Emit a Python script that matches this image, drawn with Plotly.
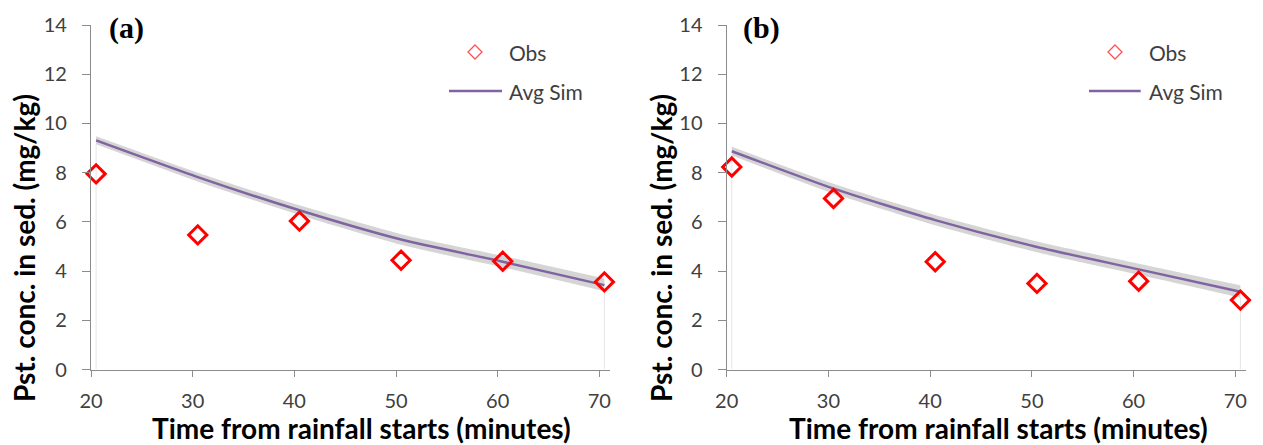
import plotly.graph_objects as go

# ---- data ----
time_obs = [20.5, 30.5, 40.5, 50.5, 60.5, 70.5]
a_obs = [7.95, 5.47, 6.03, 4.44, 4.40, 3.56]
a_sim = [9.31, 7.82, 6.47, 5.28, 4.38, 3.43]
a_upper = [9.48, 8.00, 6.67, 5.50, 4.62, 3.70]
a_lower = [9.15, 7.64, 6.28, 5.07, 4.15, 3.18]
b_obs = [8.23, 6.95, 4.38, 3.50, 3.59, 2.82]
b_sim = [8.87, 7.35, 6.07, 4.98, 4.07, 3.16]
b_upper = [9.05, 7.55, 6.28, 5.20, 4.30, 3.42]
b_lower = [8.70, 7.15, 5.86, 4.76, 3.85, 2.92]
x_ticks = [20, 30, 40, 50, 60, 70]
y_ticks = [0, 2, 4, 6, 8, 10, 12, 14]
panel_labels = ["(a)", "(b)"]
x_title = "Time from rainfall starts (minutes)"
y_title = "Pst. conc. in sed. (mg/kg)"
legend_names = ["Obs", "Avg Sim"]

W, H = 1263, 445
RED = "#ff0000"
PURPLE = "#8064a2"
BAND = "rgba(190,190,190,0.65)"
AX = "#8c8c8c"
TXT = "#404040"

fig = go.Figure()

panels = [
    (a_obs, a_sim, a_upper, a_lower, "x", "y"),
    (b_obs, b_sim, b_upper, b_lower, "x2", "y2"),
]
for obs, sim, up, lo, xa, ya in panels:
    # faint drop edges of the band
    for i in (0, len(time_obs) - 1):
        fig.add_trace(go.Scatter(x=[time_obs[i], time_obs[i]], y=[0, lo[i]], mode="lines",
                                 line=dict(color="#e6e6e6", width=1), xaxis=xa, yaxis=ya,
                                 showlegend=False, hoverinfo="skip"))
    fig.add_trace(go.Scatter(x=time_obs, y=lo, mode="lines", line=dict(width=0, color=BAND, shape="spline", smoothing=0.6),
                             xaxis=xa, yaxis=ya, showlegend=False, hoverinfo="skip"))
    fig.add_trace(go.Scatter(x=time_obs, y=up, mode="lines", line=dict(width=0, color=BAND, shape="spline", smoothing=0.6),
                             fill="tonexty", fillcolor=BAND, xaxis=xa, yaxis=ya, showlegend=False, hoverinfo="skip"))
    fig.add_trace(go.Scatter(x=time_obs, y=sim, mode="lines", name=legend_names[1],
                             line=dict(color=PURPLE, width=2.5, shape="spline", smoothing=0.6),
                             xaxis=xa, yaxis=ya, showlegend=False))
    fig.add_trace(go.Scatter(x=time_obs, y=obs, mode="markers", name=legend_names[0],
                             marker=dict(symbol="diamond-open", size=14, color=RED, line=dict(width=3, color=RED)),
                             xaxis=xa, yaxis=ya, showlegend=False, cliponaxis=False))

ydom = [1 - 369.5 / H, 1 - 25 / H]
xdoms = [[91 / W, 610 / W], [726.7 / W, 1246 / W]]

axis_common = dict(showgrid=False, zeroline=False, showline=True, linecolor=AX, linewidth=1.3,
                   ticks="outside", tickcolor=AX, tickwidth=1.3, automargin=False,
                   tickfont=dict(family="Lato", size=20, color=TXT))
for i, sfx in enumerate(["", "2"]):
    fig.layout["xaxis" + sfx] = dict(axis_common, domain=xdoms[i], range=[20, 71.05],
                                     tickvals=x_ticks, ticklen=6, anchor="y" + sfx,
                                     ticklabelstandoff=7)
    fig.layout["yaxis" + sfx] = dict(axis_common, domain=ydom, range=[0, 14],
                                     tickvals=y_ticks, ticklen=8, anchor="x" + sfx,
                                     ticklabelstandoff=11)

ann = []
# axis titles
for cx in (361, 998.5):
    ann.append(dict(text=x_title, x=cx / W, y=1 - 428 / H, xref="paper", yref="paper",
                    xanchor="center", yanchor="middle", showarrow=False,
                    font=dict(family="Lato", size=28, color="#000000", weight="bold")))
for cx in (24, 661):
    ann.append(dict(text=y_title, x=cx / W, y=1 - 248 / H, xref="paper", yref="paper",
                    xanchor="center", yanchor="middle", showarrow=False, textangle=-90,
                    font=dict(family="Lato", size=28, color="#000000", weight="bold")))
# panel labels
for lx, lab in zip((107, 741), panel_labels):
    ann.append(dict(text=lab, x=lx / W, y=1 - 28 / H, xref="paper", yref="paper",
                    xanchor="left", yanchor="middle", showarrow=False,
                    font=dict(family="Liberation Serif", size=30, color="#000000", weight="bold")))

shapes = []
# manual legends
for dx, lx0, lx1, tx in ((475, 449, 502, 507), (1115, 1089, 1140.7, 1147)):
    s = 7
    cy = 52
    path = f"M {(dx)/W} {1-(cy-s)/H} L {(dx+s)/W} {1-cy/H} L {dx/W} {1-(cy+s)/H} L {(dx-s)/W} {1-cy/H} Z"
    shapes.append(dict(type="path", path=path, xref="paper", yref="paper",
                       line=dict(color="#ff5050", width=1.3), fillcolor="rgba(0,0,0,0)"))
    shapes.append(dict(type="line", x0=lx0 / W, x1=lx1 / W, y0=1 - 91 / H, y1=1 - 91 / H,
                       xref="paper", yref="paper", line=dict(color=PURPLE, width=2.5)))
    for ty, name in ((52, legend_names[0]), (91, legend_names[1])):
        ann.append(dict(text=name, x=tx / W, y=1 - ty / H, xref="paper", yref="paper",
                        xanchor="left", yanchor="middle", showarrow=False,
                        font=dict(family="Lato", size=21, color=TXT)))

fig.update_layout(width=W, height=H, margin=dict(l=0, r=0, t=0, b=0),
                  paper_bgcolor="white", plot_bgcolor="white",
                  annotations=ann, shapes=shapes, showlegend=False)

fig.write_html("out.html", config={"displayModeBar": False},
               post_script="document.body.style.margin='0';document.body.style.overflow='hidden';")
